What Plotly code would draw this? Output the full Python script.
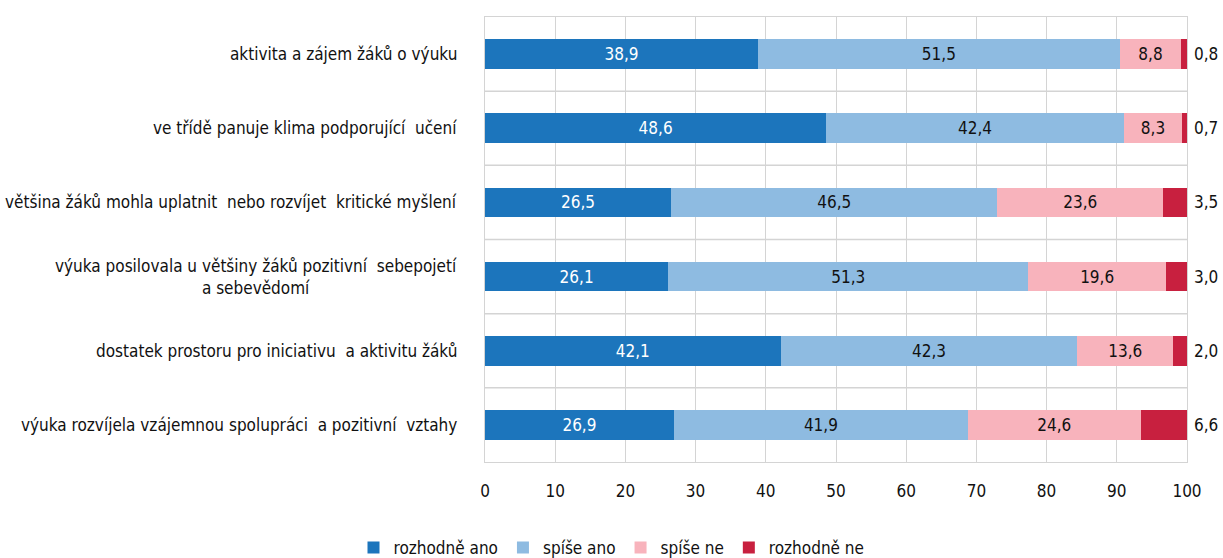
import plotly.graph_objects as go

categories = [
    "aktivita a zájem žáků o výuku",
    "ve třídě panuje klima podporující  učení",
    "většina žáků mohla uplatnit  nebo rozvíjet  kritické myšlení",
    "výuka posilovala u většiny žáků pozitivní  sebepojetí<br>a sebevědomí",
    "dostatek prostoru pro iniciativu  a aktivitu žáků",
    "výuka rozvíjela vzájemnou spolupráci  a pozitivní  vztahy",
]
series_names = ["rozhodně ano", "spíše ano", "spíše ne", "rozhodně ne"]
rozhodne_ano = [38.9, 48.6, 26.5, 26.1, 42.1, 26.9]
spise_ano = [51.5, 42.4, 46.5, 51.3, 42.3, 41.9]
spise_ne = [8.8, 8.3, 23.6, 19.6, 13.6, 24.6]
rozhodne_ne = [0.8, 0.7, 3.5, 3.0, 2.0, 6.6]
x_ticks = [0, 10, 20, 30, 40, 50, 60, 70, 80, 90, 100]

colors = ["#1c75bc", "#8ebbe1", "#f8b3bc", "#c8203f"]
text_colors = ["#ffffff", "#111111", "#111111"]
GRID = "#d4d4d4"
FONT = "Liberation Sans Narrow, DejaVu Sans Condensed, Arial Narrow, sans-serif"

n = len(categories)
ypos = list(range(n))
all_vals = [rozhodne_ano, spise_ano, spise_ne, rozhodne_ne]
XMAX = x_ticks[-1]

fig = go.Figure()
for i, (name, vals) in enumerate(zip(series_names, all_vals)):
    inside = i < 3
    fig.add_trace(go.Bar(
        y=ypos, x=vals, name=name, orientation="h",
        marker=dict(color=colors[i], line=dict(width=0)),
        texttemplate="%{x:.1f}" if inside else None,
        textposition="inside" if inside else "none",
        insidetextanchor="middle",
        textangle=0,
        constraintext="none",
        textfont=dict(family=FONT, size=17, color=text_colors[i] if inside else "#111111"),
        hoverinfo="skip",
    ))

# values of the last series shown just beyond the end of each stacked bar
totals = [min(a + b + c + d, XMAX) for a, b, c, d in zip(*all_vals)]
for yp, tot, v in zip(ypos, totals, rozhodne_ne):
    fig.add_annotation(
        x=tot, xref="x", y=yp, yref="y",
        text=f"{v:.1f}".replace(".", ","),
        xanchor="left", yanchor="middle", xshift=5, showarrow=False,
        font=dict(family=FONT, size=17, color="#111111"),
    )

# category labels (second line centred under the first, as in the original)
for yp, c in zip(ypos, categories):
    fig.add_annotation(
        x=0, xref="paper", y=yp, yref="y", text=c,
        xanchor="right", yanchor="middle", align="center",
        xshift=-26, showarrow=False,
        font=dict(family=FONT, size=17, color="#111111"),
    )

# horizontal grid lines at the category boundaries
for k in range(1, n):
    fig.add_shape(
        type="line", xref="x", x0=0, x1=XMAX, yref="y", y0=k - 0.5, y1=k - 0.5,
        line=dict(color=GRID, width=1.5), layer="above",
    )

fig.update_layout(
    barmode="stack",
    bargap=0.6,
    separators=", ",
    width=1223, height=558,
    margin=dict(l=485, r=36, t=17, b=96),
    plot_bgcolor="white", paper_bgcolor="white",
    font=dict(family=FONT, size=17, color="#111111"),
    showlegend=True,
    legend=dict(
        orientation="h", xref="container", yref="container",
        x=0.5, xanchor="center", y=0.018, yanchor="middle",
        font=dict(family=FONT, size=17, color="#111111"),
        traceorder="normal", itemwidth=30, tracegroupgap=0,
    ),
    xaxis=dict(
        range=[0, XMAX], tickvals=x_ticks, showgrid=True,
        gridcolor=GRID, gridwidth=1, zeroline=False,
        showline=True, linecolor=GRID, mirror=True,
        ticks="", ticklabelstandoff=14,
        tickfont=dict(family=FONT, size=17, color="#111111"),
    ),
    yaxis=dict(
        range=[n - 0.5, -0.5], showgrid=False, zeroline=False,
        showticklabels=False,
        showline=True, linecolor=GRID, mirror=True, ticks="",
    ),
)

fig.write_html("out.html")
